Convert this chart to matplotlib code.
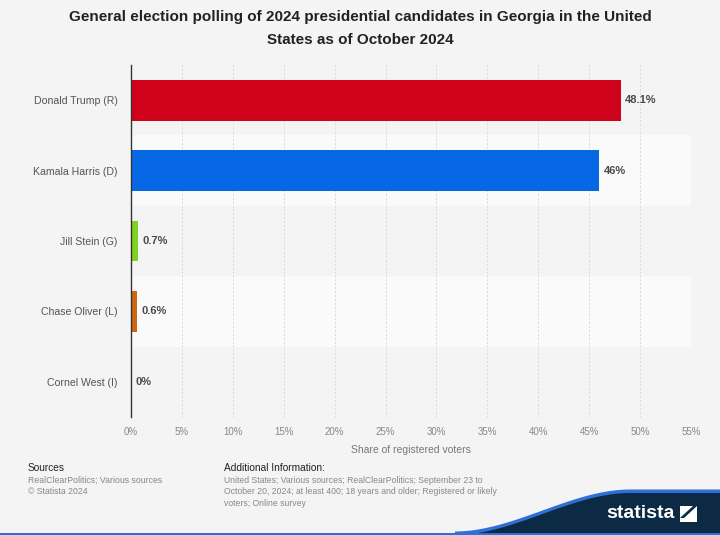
import numpy as np
import matplotlib.pyplot as plt
from matplotlib.patches import Polygon, Rectangle

plt.rcParams['font.family'] = ['Liberation Sans', 'DejaVu Sans']

candidates = ['Donald Trump (R)', 'Kamala Harris (D)', 'Jill Stein (G)',
              'Chase Oliver (L)', 'Cornel West (I)']
shares = [48.1, 46.0, 0.7, 0.6, 0.0]
share_labels = ['48.1%', '46%', '0.7%', '0.6%', '0%']
bar_colors = ['#d0021b', '#0768e6', '#7ed321', '#cc660f', '#7f7f7f']
x_ticks = list(range(0, 60, 5))

bg = '#f4f4f4'
W, H = 720, 535

fig = plt.figure(figsize=(7.2, 5.35), dpi=100, facecolor=bg)
ax = fig.add_axes([131 / W, 1 - 417 / H, 560 / W, 352 / H])
ax.set_facecolor(bg)

n = len(candidates)
y = np.arange(n)

# alternating row bands
for i in range(n):
    if i % 2 == 1:
        ax.axhspan(i - 0.5, i + 0.5, color='#fafafa', zorder=0, lw=0)

ax.barh(y, shares, height=0.58, color=bar_colors, zorder=3)
for i, (v, lab) in enumerate(zip(shares, share_labels)):
    ax.text(v + 0.4, i, lab, va='center', ha='left', fontsize=8,
            fontweight='bold', color='#4a4a4a', zorder=4)

ax.set_xlim(0, 55)
ax.set_ylim(n - 0.5, -0.5)
ax.set_yticks(y)
ax.set_yticklabels(candidates, fontsize=7.6, color='#555555')
ax.set_xticks(x_ticks)
ax.set_xticklabels([f'{t}%' for t in x_ticks], fontsize=7, color='#888888')
ax.tick_params(axis='both', length=0)
ax.tick_params(axis='y', pad=9.5)
ax.tick_params(axis='x', pad=7)
ax.xaxis.grid(True, color='#d8d8d8', linestyle=(0, (2, 2)), linewidth=0.7, zorder=1)
ax.set_axisbelow(True)
for s in ['top', 'right', 'bottom']:
    ax.spines[s].set_visible(False)
ax.spines['left'].set_color('#333333')
ax.spines['left'].set_linewidth(1.0)
ax.spines['left'].set_zorder(5)
ax.set_xlabel('Share of registered voters', fontsize=7.5, color='#777777', labelpad=6)

fig.text(0.5, 1 - 17 / H, 'General election polling of 2024 presidential candidates in Georgia in the United',
         ha='center', va='center', fontsize=11, fontweight='bold', color='#222222')
fig.text(0.5, 1 - 40 / H, 'States as of October 2024',
         ha='center', va='center', fontsize=11, fontweight='bold', color='#222222')

# footer
fig.text(28 / W, 1 - 468 / H, 'Sources', fontsize=7.3, color='#222222', va='center')
fig.text(28 / W, 1 - 480 / H, 'RealClearPolitics; Various sources', fontsize=6.3,
         color='#888888', va='center')
fig.text(28 / W, 1 - 491.5 / H, '\u00a9 Statista 2024', fontsize=6.3, color='#888888', va='center')
fig.text(224 / W, 1 - 468 / H, 'Additional Information:', fontsize=7.3, color='#222222', va='center')
info = ['United States; Various sources; RealClearPolitics; September 23 to',
        'October 20, 2024; at least 400; 18 years and older; Registered or likely',
        'voters; Online survey']
for k, line in enumerate(info):
    fig.text(224 / W, 1 - (480.5 + 11.5 * k) / H, line, fontsize=6.2, color='#888888', va='center')

# statista wave logo
xs = np.linspace(455, 630, 80)
t = (xs - 455) / (630 - 455)
sm = t * t * (3 - 2 * t)
top = 535 - (535 - 493) * sm
xw = np.concatenate([xs, [W, W, 455]])
yw_blue = np.concatenate([top - 3.5, [493 - 3.5, 535, 535]])
yw_dark = np.concatenate([top, [493, 535, 535]])
fig.patches.append(Polygon(np.column_stack([xw / W, 1 - yw_blue / H]), closed=True,
                           transform=fig.transFigure, facecolor='#2f6fd8', edgecolor='none'))
fig.patches.append(Polygon(np.column_stack([xw / W, 1 - yw_dark / H]), closed=True,
                           transform=fig.transFigure, facecolor='#0c2a44', edgecolor='none'))
fig.patches.append(Rectangle((0, 0), 1, 2.5 / H, transform=fig.transFigure,
                             facecolor='#2f6fd8', edgecolor='none'))
fig.text(640 / W, 1 - 514 / H, 'statista', ha='center', va='center', fontsize=14,
         fontweight='bold', color='white')
fig.patches.append(Rectangle((680 / W, 1 - 522 / H), 17 / W, 16 / H, transform=fig.transFigure,
                             facecolor='white', edgecolor='none'))
fig.patches.append(Polygon([[680 / W, 1 - 518 / H], [693 / W, 1 - 506 / H], [697 / W, 1 - 506 / H],
                            [684 / W, 1 - 518 / H]], closed=True, transform=fig.transFigure,
                           facecolor='#0c2a44', edgecolor='none'))

fig.savefig('out.png', dpi=100, facecolor=bg)
